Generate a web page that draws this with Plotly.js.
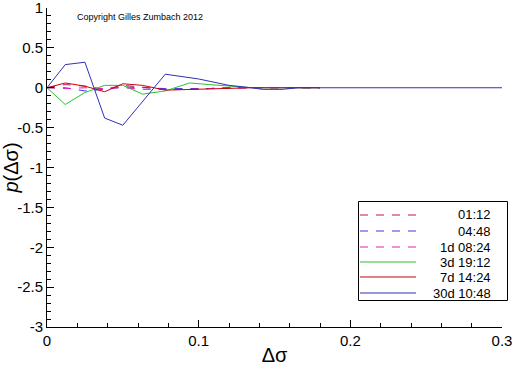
<!DOCTYPE html>
<html>
<head>
<meta charset="utf-8">
<script src="https://cdn.plot.ly/plotly-3.0.1.min.js"></script>
<style>html,body{margin:0;padding:0;background:#fff;}#chart{width:512px;height:366px;}</style>
</head>
<body>
<div id="chart"></div>
<script>
// Series names
const names = ["01:12", "04:48", "1d 08:24", "3d 19:12", "7d 14:24", "30d 10:48"];

// x positions (Δσ)
const xShort = [0, 0.012, 0.025, 0.038, 0.05, 0.063, 0.078, 0.094, 0.107, 0.12, 0.135, 0.15, 0.165, 0.18];
const xLong = [0, 0.012, 0.025, 0.038, 0.05, 0.078, 0.1, 0.12, 0.135, 0.142, 0.155, 0.165, 0.3];

// values p(Δσ)
const y0112 = [0, 0.04, 0.02, -0.02, 0.03, 0.01, -0.02, -0.02, -0.01, 0, 0, 0, 0, 0];
const y0448 = [0, 0.00, -0.04, -0.02, 0.01, 0.00, -0.01, -0.01, -0.01, 0, 0, 0, 0, 0];
const y1d0824 = [0, -0.01, 0.00, -0.01, 0.00, -0.02, -0.02, -0.02, -0.01, 0, 0, 0, 0, 0];
const y3d1912 = [0, -0.21, -0.06, 0.03, 0.03, -0.08, -0.04, 0.06, 0.04, 0.02, 0, 0, 0, 0];
const y7d1424 = [0, 0.06, 0.02, -0.05, 0.05, 0.03, -0.03, -0.02, -0.01, 0, 0, 0, 0, 0];
const y30d1048 = [0, 0.29, 0.32, -0.38, -0.47, 0.17, 0.11, 0.03, 0, -0.02, -0.02, 0, 0];

// tick values and labels
const xTickVals = [0, 0.1, 0.2, 0.3];
const xTickText = ["0", "0.1", "0.2", "0.3"];
const yTickVals = [1, 0.5, 0, -0.5, -1, -1.5, -2, -2.5, -3];
const yTickText = ["1", "0.5", "0", "-0.5", "-1", "-1.5", "-2", "-2.5", "-3"];

const colors = ["#c8104a", "#3a3ae0", "#e020c8", "#30c030", "#c80010", "#3030b8"];
const dashes = ["8px,8px", "8px,8px", "8px,8px", "solid", "solid", "solid"];
const xs = [xShort, xShort, xShort, xShort, xShort, xLong];
const ys = [y0112, y0448, y1d0824, y3d1912, y7d1424, y30d1048];

const traces = names.map((n, i) => ({
  x: xs[i], y: ys[i], name: n, type: "scatter", mode: "lines",
  line: {color: colors[i], width: 1, dash: dashes[i]}
}));

const font = {family: "Liberation Sans, Arial, sans-serif", color: "#000"};

// plot area geometry (pixels) for the hand-built legend box
const W = 512, H = 366, ML = 47, MR = 10, MT = 8, MB = 39;
const PW = W - ML - MR, PH = H - MT - MB;
const px = v => (v - ML) / PW;
const py = v => (H - MB - v) / PH;

const shapes = [{
  type: "rect", xref: "paper", yref: "paper",
  x0: px(358.5), x1: px(507.5), y0: py(300.5), y1: py(201.5),
  line: {color: "#000", width: 1}, fillcolor: "#fff", layer: "above"
}];
const annotations = [{
  text: "Copyright Gilles Zumbach 2012", xref: "paper", yref: "paper",
  x: px(75), y: py(17), xanchor: "left", yanchor: "middle", showarrow: false,
  font: Object.assign({size: 9}, font)
}];
const rowY = [215, 231, 247, 262, 277, 293];
names.forEach((n, i) => {
  shapes.push({
    type: "line", xref: "paper", yref: "paper",
    x0: px(360), x1: px(416), y0: py(rowY[i]), y1: py(rowY[i]),
    line: {color: colors[i], width: 1.2, dash: dashes[i]}, layer: "above"
  });
  annotations.push({
    text: n, xref: "paper", yref: "paper", x: px(493), y: py(rowY[i]),
    xanchor: "right", yanchor: "middle", showarrow: false,
    font: Object.assign({size: 13}, font)
  });
});

const layout = {
  width: W, height: H,
  margin: {l: ML, r: MR, t: MT, b: MB},
  paper_bgcolor: "#fff", plot_bgcolor: "#fff",
  showlegend: false,
  font: Object.assign({size: 14}, font),
  xaxis: {
    range: [0, 0.3], tickmode: "array", tickvals: xTickVals, ticktext: xTickText,
    ticklabeloverflow: "allow",
    ticks: "inside", ticklen: 7, tickwidth: 1, tickcolor: "#000",
    minor: {tickmode: "linear", tick0: 0, dtick: 0.02, ticks: "inside", ticklen: 4, tickcolor: "#000"},
    showline: true, linecolor: "#000", linewidth: 1, showgrid: false, zeroline: false,
    tickfont: Object.assign({size: 15}, font),
    title: {text: "Δσ", font: Object.assign({size: 20}, font), standoff: 4}
  },
  yaxis: {
    range: [-3, 1], tickmode: "array", tickvals: yTickVals, ticktext: yTickText,
    ticklabeloverflow: "allow",
    ticks: "inside", ticklen: 7, tickwidth: 1, tickcolor: "#000",
    minor: {tickmode: "linear", tick0: 0, dtick: 0.1, ticks: "inside", ticklen: 4, tickcolor: "#000"},
    showline: true, linecolor: "#000", linewidth: 1, showgrid: false, zeroline: false,
    tickfont: Object.assign({size: 15}, font),
    title: {text: "<i>p</i>(Δσ)", font: Object.assign({size: 20}, font), standoff: 4}
  },
  shapes: shapes,
  annotations: annotations
};

Plotly.newPlot("chart", traces, layout, {staticPlot: true, displayModeBar: false});
</script>
</body>
</html>
